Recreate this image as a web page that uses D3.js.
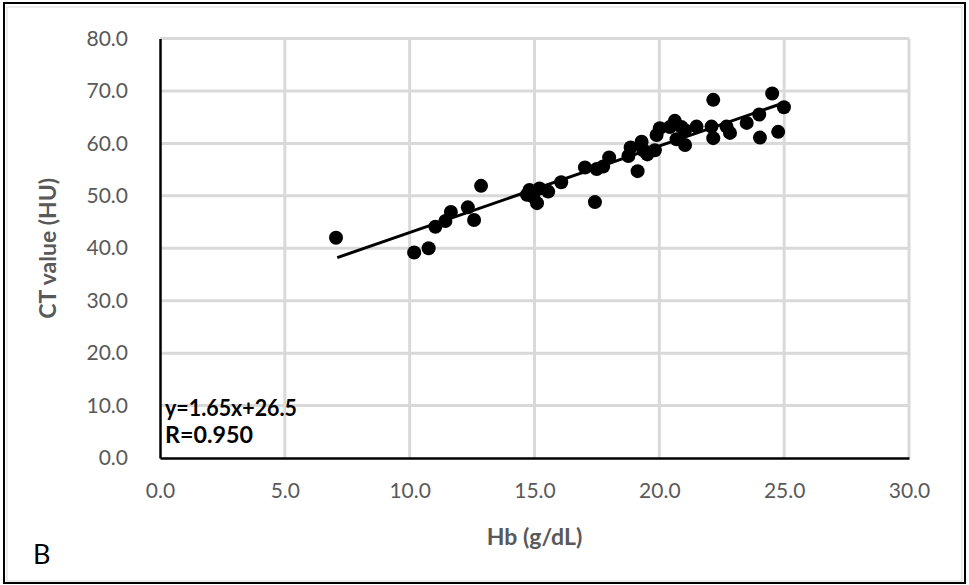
<!DOCTYPE html>
<html lang="en">
<head>
  <meta charset="UTF-8">
  <title>CT value vs Hb</title>
  <script src="https://d3js.org/d3.v7.min.js"></script>
  <style>
    body { margin: 0; background: #fff; }
    svg { display: block; font-family: Lato, "Open Sans", sans-serif; }
  </style>
</head>
<body>
  <svg id="chart" width="969" height="585"></svg>
  <script>
    // Hb (g/dL) values
    const hb = [7.05, 10.18, 10.76, 11.03, 11.43, 11.65, 12.33, 12.58, 12.86,
      14.7, 14.8, 14.95, 15.1, 15.2, 15.55, 16.07, 17.02, 17.42, 17.49, 17.75, 17.99,
      18.76, 18.85, 19.13, 19.29, 19.36, 19.52, 19.82, 19.89, 20.02,
      20.42, 20.62, 20.69, 20.89, 21.03, 21.03, 21.49, 22.09, 22.16, 22.16,
      22.69, 22.83, 23.5, 24.0, 24.03, 24.52, 24.76, 24.99];
    // CT value (HU) values
    const ct = [42.0, 39.2, 40.0, 44.1, 45.2, 46.9, 47.8, 45.4, 51.9,
      50.2, 51.1, 49.8, 48.6, 51.4, 50.8, 52.6, 55.4, 48.8, 55.1, 55.6, 57.3,
      57.6, 59.2, 54.7, 60.3, 58.7, 57.9, 58.7, 61.6, 62.9,
      63.1, 64.3, 60.8, 63.1, 62.5, 59.7, 63.2, 63.2, 68.3, 61.0,
      63.2, 62.0, 63.9, 65.5, 61.1, 69.5, 62.2, 66.9];

    const xTicks = [0, 5, 10, 15, 20, 25, 30];
    const yTicks = [0, 10, 20, 30, 40, 50, 60, 70, 80];
    const fit = { slope: 1.65, intercept: 26.5, from: 7.1, to: 25.0 };
    const fitLabels = ["y=1.65x+26.5", "R=0.950"];

    const svg = d3.select("#chart");
    const m = { left: 160, right: 909, top: 38.5, bottom: 458 };

    const x = d3.scaleLinear().domain([0, 30]).range([m.left, m.right]);
    const y = d3.scaleLinear().domain([0, 80]).range([m.bottom, m.top]);

    // outer frame, with the faint chart-area edge just inside it
    svg.append("rect")
      .attr("x", 7).attr("y", 7).attr("width", 955).attr("height", 574)
      .attr("fill", "none").attr("stroke", "#d9d9d9").attr("stroke-width", 1);
    svg.append("rect")
      .attr("x", 4).attr("y", 3).attr("width", 961).attr("height", 580)
      .attr("fill", "none").attr("stroke", "#000").attr("stroke-width", 2);

    // grid
    svg.append("g").selectAll("line").data(xTicks.slice(1)).join("line")
      .attr("x1", d => x(d)).attr("x2", d => x(d))
      .attr("y1", y(0)).attr("y2", y(80))
      .attr("stroke", "#d9d9d9").attr("stroke-width", 3);
    svg.append("g").selectAll("line").data(yTicks.slice(1)).join("line")
      .attr("x1", x(0)).attr("x2", x(30))
      .attr("y1", d => y(d)).attr("y2", d => y(d))
      .attr("stroke", "#d9d9d9").attr("stroke-width", 3);

    // axes
    const xAxis = svg.append("g")
      .attr("transform", `translate(0,${y(0)})`)
      .call(d3.axisBottom(x).tickValues(xTicks).tickFormat(d3.format(".1f")).tickSize(0).tickPadding(25));
    const yAxis = svg.append("g")
      .attr("transform", `translate(${x(0)},0)`)
      .call(d3.axisLeft(y).tickValues(yTicks).tickFormat(d3.format(".1f")).tickSize(0).tickPadding(32));
    [xAxis, yAxis].forEach(a => {
      a.select(".domain").attr("stroke", "#000").attr("stroke-width", 2.5);
      a.selectAll("text").attr("fill", "#595959").attr("font-size", 21)
        .attr("font-family", "Lato, sans-serif");
    });

    // trend line
    svg.append("line")
      .attr("x1", x(fit.from)).attr("y1", y(fit.slope * fit.from + fit.intercept))
      .attr("x2", x(fit.to)).attr("y2", y(fit.slope * fit.to + fit.intercept))
      .attr("stroke", "#000").attr("stroke-width", 3);

    // points
    svg.append("g").selectAll("circle").data(hb).join("circle")
      .attr("cx", d => x(d))
      .attr("cy", (d, i) => y(ct[i]))
      .attr("r", 7)
      .attr("fill", "#000");

    // equation box
    svg.append("g").selectAll("text").data(fitLabels).join("text")
      .attr("x", 165)
      .attr("y", (d, i) => 416 + i * 27)
      .attr("font-size", 22).attr("font-weight", "bold").attr("fill", "#000")
      .attr("textLength", (d, i) => i === 0 ? 132 : 88)
      .attr("lengthAdjust", "spacingAndGlyphs")
      .text(d => d);

    // axis titles
    svg.append("text")
      .attr("x", (m.left + m.right) / 2).attr("y", 545)
      .attr("text-anchor", "middle")
      .attr("font-size", 23).attr("font-weight", "bold").attr("fill", "#595959")
      .text("Hb (g/dL)");
    svg.append("text")
      .attr("transform", `translate(56,${(m.top + m.bottom) / 2}) rotate(-90)`)
      .attr("text-anchor", "middle")
      .attr("font-size", 23).attr("font-weight", "bold").attr("fill", "#595959")
      .text("CT value (HU)");

    // panel letter
    svg.append("text")
      .attr("x", 33).attr("y", 564)
      .attr("font-size", 27).attr("fill", "#000")
      .text("B");
  </script>
</body>
</html>
